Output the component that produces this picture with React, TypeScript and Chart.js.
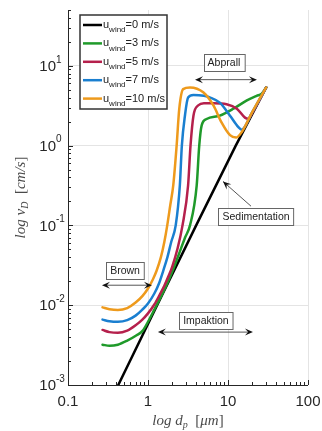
import { useEffect, useRef } from "react";
import { Chart, registerables } from "chart.js";

Chart.register(...registerables);

// ---- data ----
const seriesNames = ["0 m/s", "3 m/s", "5 m/s", "7 m/s", "10 m/s"];
const seriesColors = ["#000000", "#1f9a2a", "#b5204c", "#1a7fd0", "#ee9a1c"];

const blackD = [0.425, 1.3, 4.0, 12.5, 30];
const blackV = [0.001, 0.01, 0.1, 1.0, 5.35];

const greenD = [0.27, 0.33, 0.42, 0.55, 0.72, 0.86, 1.0, 1.2, 1.45, 1.75, 2.0, 2.4, 2.9, 3.35, 4.06, 4.37, 4.68, 5.4, 7.9, 11.7, 17, 22.8, 26.4, 30];
const greenV = [0.0032, 0.0031, 0.0032, 0.0036, 0.0042, 0.0048, 0.0062, 0.0088, 0.0128, 0.019, 0.026, 0.042, 0.07, 0.1, 0.316, 1.0, 1.78, 2.15, 2.37, 2.9, 3.65, 4.2, 4.47, 5.35];

const redD = [0.27, 0.33, 0.42, 0.55, 0.7, 0.85, 1.0, 1.2, 1.4, 1.6, 1.8, 2.0, 2.35, 2.7, 3.17, 3.4, 3.7, 4.26, 5.0, 6.6, 9.6, 12.9, 16.3, 17.9, 19.8, 30];
const redV = [0.0049, 0.0046, 0.0045, 0.0048, 0.0056, 0.0066, 0.0079, 0.0102, 0.0135, 0.0175, 0.023, 0.03, 0.052, 0.1, 0.316, 1.0, 2.37, 3.2, 3.4, 3.4, 3.3, 2.9, 2.24, 2.17, 2.5, 5.35];

const blueD = [0.27, 0.33, 0.42, 0.55, 0.7, 0.85, 1.0, 1.2, 1.38, 1.55, 1.75, 1.95, 2.22, 2.5, 2.65, 2.9, 3.17, 3.7, 5.0, 6.0, 7.9, 10.6, 13.5, 14.8, 20, 30];
const blueV = [0.0066, 0.0063, 0.0062, 0.0065, 0.0074, 0.0088, 0.0105, 0.014, 0.019, 0.027, 0.04, 0.062, 0.1, 0.316, 1.0, 2.4, 4.0, 4.3, 4.2, 4.0, 3.45, 2.37, 1.7, 1.58, 2.6, 5.35];

const orangeD = [0.27, 0.33, 0.42, 0.55, 0.7, 0.85, 1.0, 1.15, 1.28, 1.45, 1.6, 1.74, 1.9, 2.07, 2.28, 2.46, 2.75, 3.35, 4.9, 6.6, 8.3, 10.6, 12.6, 14.8, 20, 30];
const orangeV = [0.0094, 0.0089, 0.0087, 0.0092, 0.0108, 0.013, 0.0162, 0.021, 0.027, 0.04, 0.062, 0.1, 0.18, 0.32, 1.0, 2.9, 5.1, 5.35, 4.65, 3.16, 1.95, 1.35, 1.26, 1.47, 2.6, 5.35];

const xTickValues = [0.1, 1, 10, 100];
const xTickLabels = ["0.1", "1", "10", "100"];
const yTickValues = [0.001, 0.01, 0.1, 1, 10];
const yTickExponents = ["-3", "-2", "-1", "0", "1"];
const xMin = 0.1, xMax = 100, yMin = 0.001, yMax = 50;

// annotations in data coordinates
const boxLabels = [
  { text: "Abprall", x: 8.9, y: 10.9 },
  { text: "Sedimentation", x: 22.4, y: 0.13 },
  { text: "Brown", x: 0.516, y: 0.0274 },
  { text: "Impaktion", x: 5.3, y: 0.0065 },
];
const doubleArrows = [
  { x1: 3.87, x2: 23, y: 6.7 },
  { x1: 0.266, x2: 1.12, y: 0.0178 },
  { x1: 1.33, x2: 20.5, y: 0.0046 },
];
const pointerArrows = [{ x1: 19.4, y1: 0.174, x2: 8.66, y2: 0.355 }];

const zip = (d: number[], v: number[]) => d.map((x, i) => ({ x, y: v[i] }));

const SANS = "'Liberation Sans', Arial, sans-serif";
const SERIF = "'Liberation Serif', 'DejaVu Serif', serif";

function arrowHead(ctx: CanvasRenderingContext2D, x: number, y: number, ang: number) {
  const L = 8, W = 3.5;
  ctx.save();
  ctx.translate(x, y);
  ctx.rotate(ang);
  ctx.beginPath();
  ctx.moveTo(0, 0);
  ctx.lineTo(-L, -W);
  ctx.lineTo(-L * 0.6, 0);
  ctx.lineTo(-L, W);
  ctx.closePath();
  ctx.fillStyle = "#111";
  ctx.fill();
  ctx.restore();
}

function drawPieces(ctx: CanvasRenderingContext2D, pieces: { t: string; f: string; dy: number }[], cx: number, cy: number) {
  let total = 0;
  const widths = pieces.map((p) => {
    ctx.font = p.f;
    const w = ctx.measureText(p.t).width;
    total += w;
    return w;
  });
  let x = cx - total / 2;
  pieces.forEach((p, i) => {
    ctx.font = p.f;
    ctx.fillText(p.t, x, cy + p.dy);
    x += widths[i];
  });
}

const customPlugin = {
  id: "custom",
  afterDraw(chart: any) {
    const { ctx, chartArea: a, scales } = chart;
    const xs = scales.x, ys = scales.y;
    ctx.save();

    // axes lines
    ctx.strokeStyle = "#262626";
    ctx.lineWidth = 1;
    ctx.beginPath();
    ctx.moveTo(Math.round(a.left) + 0.5, a.top);
    ctx.lineTo(Math.round(a.left) + 0.5, Math.round(a.bottom) + 0.5);
    ctx.lineTo(a.right, Math.round(a.bottom) + 0.5);
    ctx.stroke();

    // ticks (inward)
    ctx.beginPath();
    for (let e = -1; e <= 2; e++) {
      for (let k = 1; k <= 9; k++) {
        const v = k * Math.pow(10, e);
        if (v < xMin - 1e-9 || v > xMax + 1e-9) continue;
        const px = Math.round(xs.getPixelForValue(v)) + 0.5;
        const len = k === 1 ? 5 : 3;
        ctx.moveTo(px, a.bottom);
        ctx.lineTo(px, a.bottom - len);
      }
    }
    for (let e = -3; e <= 1; e++) {
      for (let k = 1; k <= 9; k++) {
        const v = k * Math.pow(10, e);
        if (v < yMin - 1e-12 || v > yMax + 1e-9) continue;
        const py = Math.round(ys.getPixelForValue(v)) + 0.5;
        const len = k === 1 ? 5 : 3;
        ctx.moveTo(a.left, py);
        ctx.lineTo(a.left + len, py);
      }
    }
    ctx.stroke();

    // x tick labels
    ctx.fillStyle = "#262626";
    ctx.font = "15px " + SANS;
    ctx.textAlign = "center";
    ctx.textBaseline = "middle";
    xTickValues.forEach((v, i) => {
      ctx.fillText(xTickLabels[i], xs.getPixelForValue(v), a.bottom + 17);
    });

    // y tick labels 10^n
    yTickValues.forEach((v, i) => {
      const py = ys.getPixelForValue(v);
      ctx.font = "15px " + SANS;
      ctx.textAlign = "right";
      ctx.textBaseline = "middle";
      ctx.fillText("10", a.left - 12, py + 1);
      ctx.font = "10px " + SANS;
      ctx.textAlign = "left";
      ctx.fillText(yTickExponents[i], a.left - 12, py - 6);
    });

    // axis titles
    ctx.fillStyle = "#4a4a4a";
    ctx.textAlign = "left";
    ctx.textBaseline = "middle";
    const it = "italic 15px " + SERIF;
    const up = "15px " + SERIF;
    const sub = "italic 10px " + SERIF;
    drawPieces(
      ctx,
      [
        { t: "log ", f: it, dy: 0 },
        { t: "d", f: it, dy: 0 },
        { t: "p", f: sub, dy: 4 },
        { t: "  [", f: up, dy: 0 },
        { t: "μm", f: it, dy: 0 },
        { t: "]", f: up, dy: 0 },
      ],
      (a.left + a.right) / 2,
      a.bottom + 36
    );
    ctx.save();
    ctx.translate(21, (a.top + a.bottom) / 2);
    ctx.rotate(-Math.PI / 2);
    drawPieces(
      ctx,
      [
        { t: "log ", f: it, dy: 0 },
        { t: "v", f: it, dy: 0 },
        { t: "D", f: sub, dy: 4 },
        { t: "  [", f: up, dy: 0 },
        { t: "cm/s", f: it, dy: 0 },
        { t: "]", f: up, dy: 0 },
      ],
      0,
      0
    );
    ctx.restore();

    // annotation arrows
    ctx.strokeStyle = "#555";
    ctx.lineWidth = 1;
    doubleArrows.forEach((d) => {
      const x1 = xs.getPixelForValue(d.x1), x2 = xs.getPixelForValue(d.x2), y = ys.getPixelForValue(d.y);
      ctx.beginPath();
      ctx.moveTo(x1 + 4, y);
      ctx.lineTo(x2 - 4, y);
      ctx.stroke();
      arrowHead(ctx, x1, y, Math.PI);
      arrowHead(ctx, x2, y, 0);
    });
    pointerArrows.forEach((p) => {
      const x1 = xs.getPixelForValue(p.x1), y1 = ys.getPixelForValue(p.y1);
      const x2 = xs.getPixelForValue(p.x2), y2 = ys.getPixelForValue(p.y2);
      ctx.beginPath();
      ctx.moveTo(x1, y1);
      ctx.lineTo(x2, y2);
      ctx.stroke();
      arrowHead(ctx, x2, y2, Math.atan2(y2 - y1, x2 - x1));
    });

    // annotation boxes
    ctx.font = "10.5px " + SANS;
    ctx.textAlign = "center";
    ctx.textBaseline = "middle";
    boxLabels.forEach((b) => {
      const cx = xs.getPixelForValue(b.x), cy = ys.getPixelForValue(b.y);
      const w = ctx.measureText(b.text).width + 8;
      const h = 17;
      const l = Math.round(cx - w / 2) + 0.5, t = Math.round(cy - h / 2) + 0.5;
      ctx.fillStyle = "#fff";
      ctx.fillRect(l, t, w, h);
      ctx.strokeStyle = "#666";
      ctx.strokeRect(l, t, w, h);
      ctx.fillStyle = "#222";
      ctx.fillText(b.text, cx, cy + 0.5);
    });

    // legend
    const lx = a.left + 12, ly = a.top + 5, lw = 87, lh = 94;
    ctx.fillStyle = "#fff";
    ctx.fillRect(lx, ly, lw, lh);
    ctx.strokeStyle = "#333";
    ctx.lineWidth = 1.5;
    ctx.strokeRect(lx, ly, lw, lh);
    seriesNames.forEach((name, i) => {
      const ry = ly + 10 + i * 18.4;
      ctx.strokeStyle = seriesColors[i];
      ctx.lineWidth = 2.5;
      ctx.beginPath();
      ctx.moveTo(lx + 3, ry);
      ctx.lineTo(lx + 22, ry);
      ctx.stroke();
      ctx.fillStyle = "#222";
      ctx.textAlign = "left";
      ctx.textBaseline = "middle";
      let x = lx + 23;
      ctx.font = "11px " + SANS;
      ctx.fillText("u", x, ry);
      x += ctx.measureText("u").width;
      ctx.font = "8px " + SANS;
      ctx.fillText("wind", x, ry + 5);
      x += ctx.measureText("wind").width;
      ctx.font = "11px " + SANS;
      ctx.fillText("=" + name, x, ry);
    });

    ctx.restore();
  },
};

export default function App() {
  const ref = useRef<HTMLCanvasElement | null>(null);

  useEffect(() => {
    if (!ref.current) return;
    const series = [
      { d: orangeD, v: orangeV, c: seriesColors[4], order: 0, tension: true },
      { d: blueD, v: blueV, c: seriesColors[3], order: 1, tension: true },
      { d: redD, v: redV, c: seriesColors[2], order: 2, tension: true },
      { d: greenD, v: greenV, c: seriesColors[1], order: 3, tension: true },
      { d: blackD, v: blackV, c: seriesColors[0], order: 4, tension: false },
    ];
    const decade = (v: number) => Math.abs(Math.log10(v) - Math.round(Math.log10(v))) < 1e-6;
    const chart = new Chart(ref.current, {
      type: "line",
      data: {
        datasets: series.map((s) => ({
          data: zip(s.d, s.v),
          borderColor: s.c,
          backgroundColor: s.c,
          borderWidth: 2.5,
          pointRadius: 0,
          fill: false,
          order: s.order,
          cubicInterpolationMode: s.tension ? ("monotone" as const) : ("default" as const),
          tension: 0,
          borderCapStyle: "round" as const,
          borderJoinStyle: "round" as const,
        })),
      },
      options: {
        animation: false,
        responsive: false,
        layout: { padding: { top: 10, right: 14, left: 0, bottom: 0 } },
        plugins: { legend: { display: false }, tooltip: { enabled: false } },
        scales: {
          x: {
            type: "logarithmic",
            min: xMin,
            max: xMax,
            border: { display: false },
            ticks: { display: false },
            grid: {
              drawTicks: false,
              lineWidth: 1,
              color: (c: any) => (c.tick && decade(c.tick.value) ? "#e4e4e4" : "rgba(0,0,0,0)"),
            },
            afterBuildTicks: (s: any) => {
              s.ticks = xTickValues.map((v) => ({ value: v }));
            },
            afterFit: (s: any) => {
              s.height = 46;
            },
          },
          y: {
            type: "logarithmic",
            min: yMin,
            max: yMax,
            border: { display: false },
            ticks: { display: false },
            grid: {
              drawTicks: false,
              lineWidth: 1,
              color: (c: any) => (c.tick && decade(c.tick.value) ? "#e4e4e4" : "rgba(0,0,0,0)"),
            },
            afterBuildTicks: (s: any) => {
              s.ticks = yTickValues.map((v) => ({ value: v }));
            },
            afterFit: (s: any) => {
              s.width = 68;
            },
          },
        },
      },
      plugins: [customPlugin],
    } as any);
    return () => chart.destroy();
  }, []);

  return (
    <div style={{ position: "fixed", left: 0, top: 0, width: 322, height: 431, background: "#fff" }}>
      <canvas ref={ref} width={322} height={431} style={{ display: "block" }} />
    </div>
  );
}
